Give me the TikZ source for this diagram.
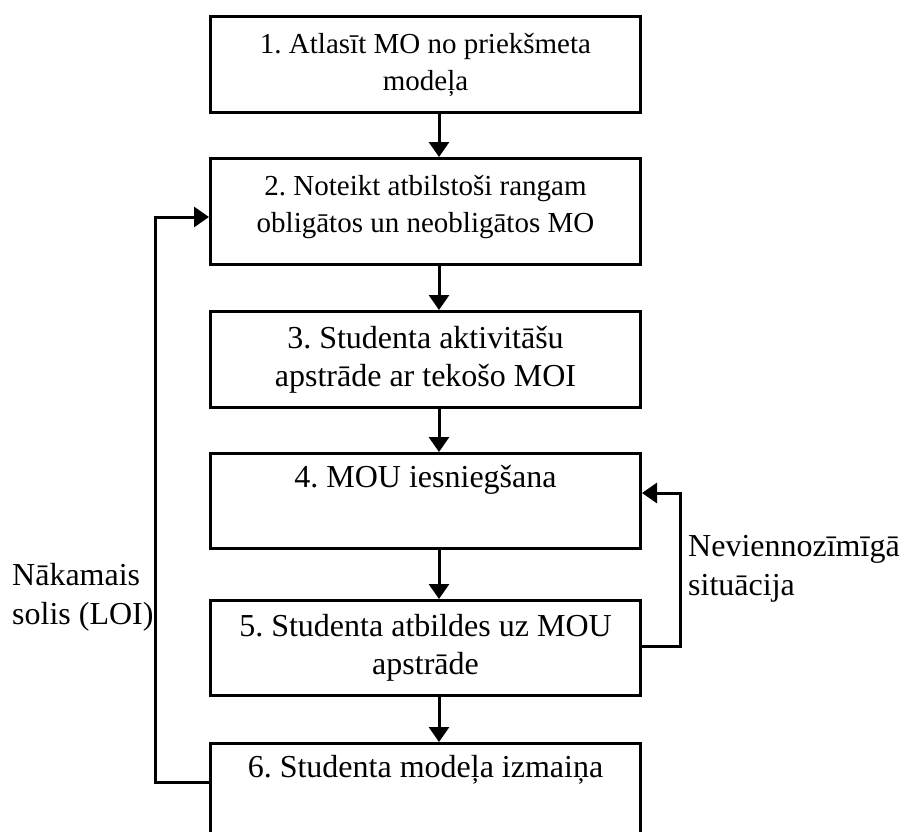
\documentclass[tikz,border=0pt]{standalone}
\usepackage{fontspec}
\setmainfont{Liberation Serif}
\usetikzlibrary{arrows.meta}
\frenchspacing
\begin{document}
\begin{tikzpicture}[x=1pt,y=-1pt,
  stepbox/.style={draw,line width=3pt,rectangle,minimum width=430pt,inner sep=0pt,
    align=center,font=\fontsize{29}{37}\selectfont,anchor=north west},
  largetext/.style={font=\fontsize{32}{38}\selectfont},
  lbl/.style={align=left,font=\fontsize{32}{39}\selectfont,inner sep=0pt},
  flow/.style={line width=3pt,-{Triangle[length=15pt,width=20pt]}},
  loop/.style={line width=3pt,-{Triangle[length=15pt,width=20pt]}}]
\useasboundingbox (0,0) rectangle (899,832);
% process steps
\node[stepbox,minimum height=96pt]  (b1) at (209,15)  {1. Atlasīt MO no priekšmeta\\modeļa};
\node[stepbox,minimum height=106pt,text depth=16pt] (b2) at (209,157) {2. Noteikt atbilstoši rangam\\obligātos un neobligātos MO};
\node[stepbox,largetext,minimum height=96pt]  (b3) at (209,310) {3. Studenta aktivitāšu\\apstrāde ar tekošo MOI};
\node[stepbox,largetext,minimum height=95pt]  (b4) at (209,452) {4. MOU iesniegšana\\\strut};
\node[stepbox,largetext,minimum height=95pt]  (b5) at (209,599) {5. Studenta atbildes uz MOU\\apstrāde};
\node[stepbox,largetext,minimum height=96pt]  (b6) at (209,742) {6. Studenta modeļa izmaiņa\\\strut};
% forward arrows
\foreach \a/\b in {b1/b2,b2/b3,b3/b4,b4/b5,b5/b6}
  \draw[flow] ([xshift=13.5pt]\a.south) -- ([xshift=13.5pt]\b.north);
% loop back to step 2
\coordinate (lb) at (155,782);
\coordinate (lt) at (155,217);
\draw[loop] (b6.west |- lb) -- (lb) -- (lt) -- (b2.west |- lt);
% loop back to step 4
\coordinate (rb) at (680,646);
\coordinate (rt) at (680,493);
\draw[loop] (b5.east |- rb) -- (rb) -- (rt) -- (b4.east |- rt);
% loop labels
\node[lbl,anchor=north west] (ln) at (12,563) {Nākamais\\solis (LOI)};
\node[lbl,anchor=north west] (rn) at (688,535) {Neviennozīmīgā\\situācija};
\end{tikzpicture}
\end{document}
